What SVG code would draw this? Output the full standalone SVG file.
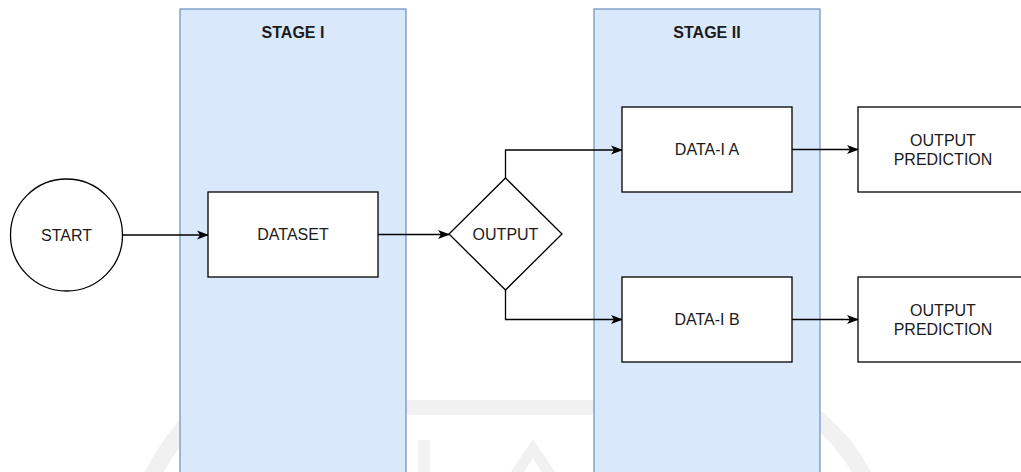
<svg xmlns="http://www.w3.org/2000/svg" width="1021" height="472" viewBox="0 0 1021 472">
  <style>
    .lane { fill: #dae8fc; stroke: #6c8ebf; stroke-width: 1.2; }
    .box { fill: #ffffff; stroke: #000000; stroke-width: 1.3; }
    .lbl { font-family: "Liberation Sans", Arial, sans-serif; font-size: 16px; fill: #1a1a1a; text-anchor: middle; dominant-baseline: central; }
    .title { font-weight: bold; }
    .edge { fill: none; stroke: #000000; stroke-width: 1.3; }
    .wm { fill: #f1f1f1; }
    .wm-arc { fill: none; stroke: #f1f1f1; stroke-width: 17; }
  </style>
  <defs>
    <marker id="arrow" viewBox="0 0 12 10" refX="11" refY="5" markerWidth="12" markerHeight="10" markerUnits="userSpaceOnUse" orient="auto">
      <path d="M0,0.5 L12,5 L0,9.5 L3,5 Z" fill="#000000"/>
    </marker>
  </defs>

  <rect width="1021" height="472" fill="#ffffff"/>

  <!-- faint background emblem -->
  <g id="watermark">
    <path class="wm-arc" d="M150,482 Q165,445 205,405"/>
    <path class="wm-arc" d="M866,482 Q848,440 800,405"/>
    <rect class="wm" x="380" y="400" width="240" height="15"/>
    <rect class="wm" x="418" y="440" width="12" height="40"/>
    <polygon class="wm" points="533,439 562,482 548,482 533,458 518,482 504,482"/>
  </g>

  <!-- stage lanes -->
  <g id="stage1">
    <rect class="lane" x="180" y="9" width="226" height="470"/>
    <text class="lbl title" x="293" y="32">STAGE I</text>
  </g>
  <g id="stage2">
    <rect class="lane" x="594" y="9" width="226" height="470"/>
    <text class="lbl title" x="707" y="32">STAGE II</text>
  </g>

  <!-- connectors -->
  <g id="connectors">
    <path class="edge" d="M123,235 L208,235" marker-end="url(#arrow)"/>
    <path class="edge" d="M378,234.5 L449,234.5" marker-end="url(#arrow)"/>
    <path class="edge" d="M505.5,178 L505.5,150 L622,150" marker-end="url(#arrow)"/>
    <path class="edge" d="M505.5,290 L505.5,319.5 L622,319.5" marker-end="url(#arrow)"/>
    <path class="edge" d="M792,149.5 L858,149.5" marker-end="url(#arrow)"/>
    <path class="edge" d="M792,319.5 L858,319.5" marker-end="url(#arrow)"/>
  </g>

  <!-- nodes -->
  <g id="start">
    <circle class="box" cx="66.5" cy="235" r="56"/>
    <text class="lbl" x="66.5" y="235">START</text>
  </g>
  <g id="dataset">
    <rect class="box" x="208" y="192" width="170" height="85"/>
    <text class="lbl" x="293" y="234.5">DATASET</text>
  </g>
  <g id="output">
    <path class="box" d="M505.5,178 L562,234 L505.5,290 L449,234 Z"/>
    <text class="lbl" x="505.5" y="234">OUTPUT</text>
  </g>
  <g id="data1a">
    <rect class="box" x="622" y="107" width="170" height="85"/>
    <text class="lbl" x="707" y="149.5">DATA-I A</text>
  </g>
  <g id="data1b">
    <rect class="box" x="622" y="277" width="170" height="85"/>
    <text class="lbl" x="707" y="319.5">DATA-I B</text>
  </g>
  <g id="prediction-a">
    <rect class="box" x="858" y="107" width="170" height="85"/>
    <text class="lbl" x="943" y="140.5">OUTPUT</text>
    <text class="lbl" x="943" y="159.5">PREDICTION</text>
  </g>
  <g id="prediction-b">
    <rect class="box" x="858" y="277" width="170" height="85"/>
    <text class="lbl" x="943" y="310.5">OUTPUT</text>
    <text class="lbl" x="943" y="329.5">PREDICTION</text>
  </g>
</svg>
